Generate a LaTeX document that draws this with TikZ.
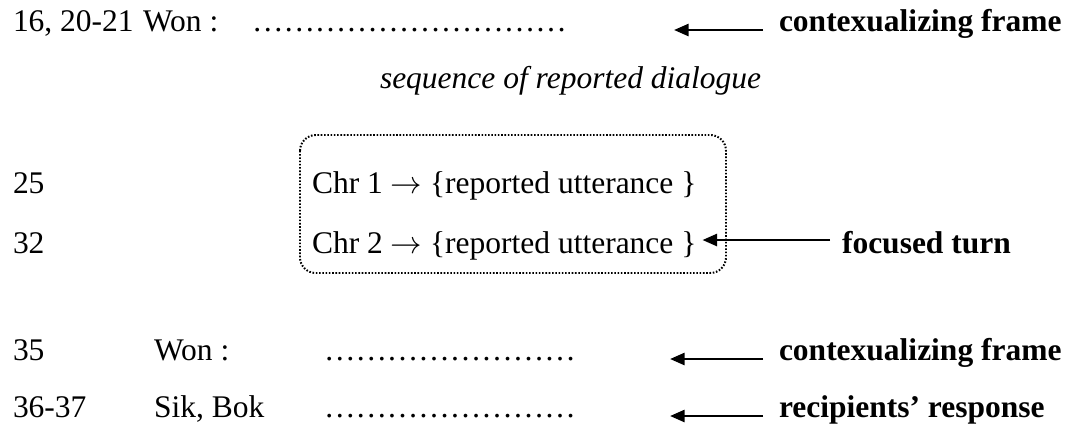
\documentclass[tikz,border=0pt]{standalone}
\usepackage{fontspec}
\setmainfont{Liberation Serif}
\usetikzlibrary{arrows.meta,calc}
\newcommand\myel{…}
\newcommand\ldotlinelong{\myel\myel\myel\myel\myel\myel\myel\myel\myel\myel}
\newcommand\ldotlineshort{\myel\myel\myel\myel\myel\myel\myel\myel}
\begin{document}
\begin{tikzpicture}[x=0.381pt,y=-0.381pt,
  every node/.style={inner sep=0pt,outer sep=0pt},
  font=\fontsize{12pt}{14pt}\selectfont,
  txt/.style={anchor=base west},
  lbl/.style={anchor=base west,font=\fontsize{12pt}{14pt}\selectfont\bfseries},
  arr/.style={line width=1pt,-{Triangle[length=5.6pt,width=4.6pt]}},
  framebox/.style={draw,line width=0.75pt,dash pattern=on 0.6pt off 0.65pt,rounded corners=6pt}]
\useasboundingbox (0,0) rectangle (1071,427);
% row 1
\node[txt] (n1) at (13,31) {16, 20-21};
\node[txt] (w1) at (143,31) {Won :};
\node[txt] (d1) at (252,31) {\ldotlinelong};
\node[lbl] (l1) at (779,31) {contexualizing frame};
\coordinate (t1) at (674,30);
\draw[arr] ($(l1.base west)+(-16,-1)$) -- (t1);
% italic line
\node[txt] (seq) at (380,88) {\itshape sequence of reported dialogue};
% box
\coordinate (bx1) at (300,135);
\coordinate (bx2) at (726,273);
\draw[framebox] (bx1) rectangle (bx2);
% row 25
\node[txt] (n25) at (13,193) {25};
\node[txt] (c1) at (312,193) {Chr 1 $\rightarrow$ \{reported utterance \}};
% row 32
\node[txt] (n32) at (13,253) {32};
\node[txt] (c2) at (312,253) {Chr 2 $\rightarrow$ \{reported utterance \}};
\node[lbl] (l2) at (842,253) {focused turn};
\draw[arr] ($(l2.base west)+(-12,-13)$) -- ($(c2.base east)+(6,-13)$);
% row 35
\node[txt] (n35) at (13,360) {35};
\node[txt] (w3) at (154,360) {Won :};
\node[txt] (d3) at (324,360) {\ldotlineshort};
\node[lbl] (l3) at (779,360) {contexualizing frame};
\coordinate (t3) at (670,359);
\draw[arr] ($(l3.base west)+(-16,-1)$) -- (t3);
% row 36-37
\node[txt] (n36) at (13,417) {36-37};
\node[txt] (w4) at (154,417) {Sik, Bok};
\node[txt] (d4) at (324,417) {\ldotlineshort};
\node[lbl] (l4) at (779,417) {recipients’ response};
\coordinate (t4) at (670,416);
\draw[arr] ($(l4.base west)+(-16,-1)$) -- (t4);
\end{tikzpicture}
\end{document}
